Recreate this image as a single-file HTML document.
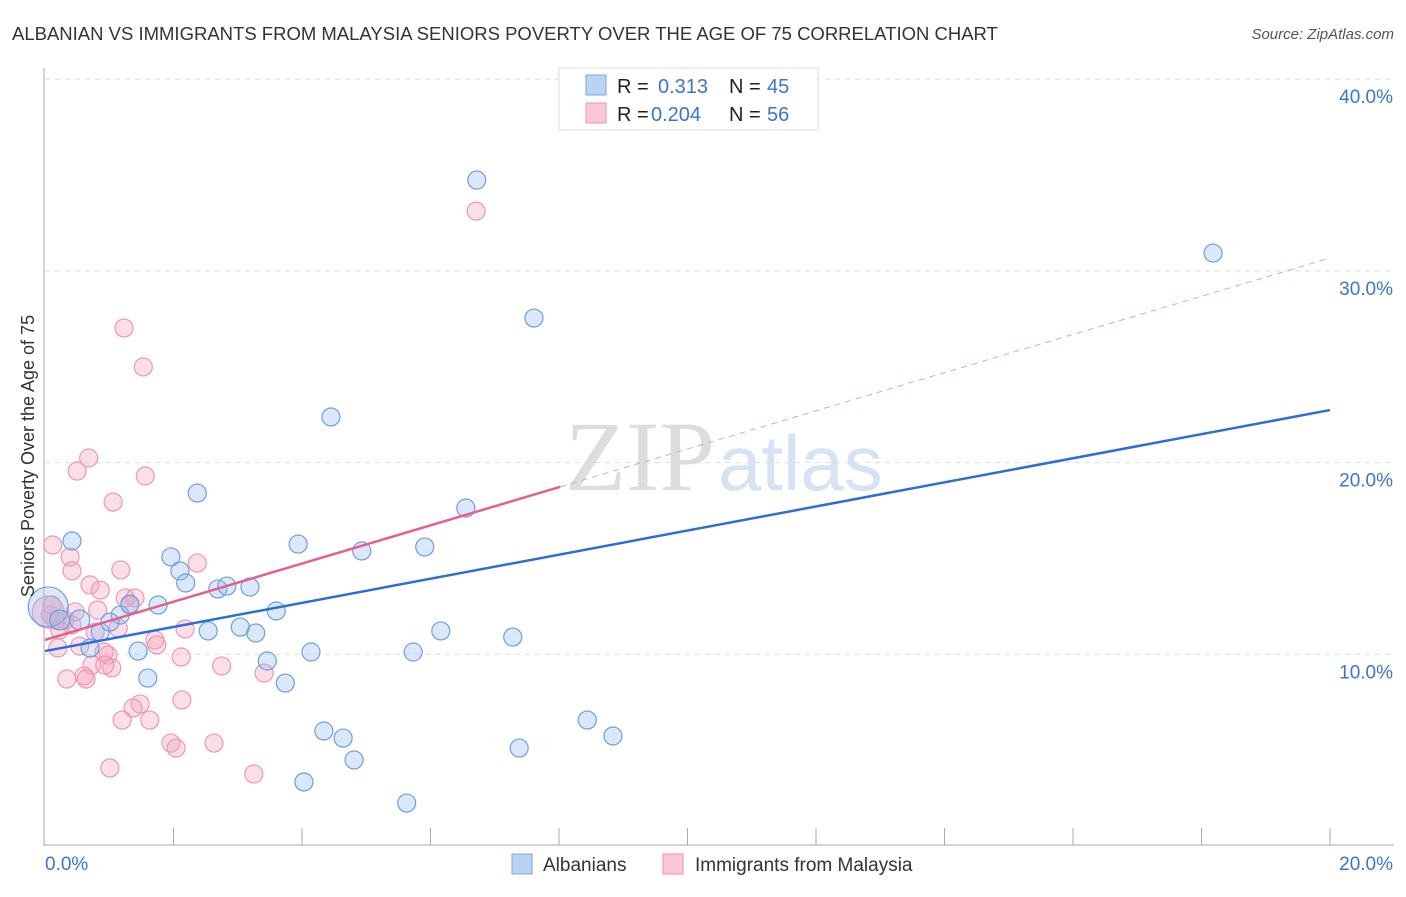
<!DOCTYPE html>
<html><head><meta charset="utf-8"><style>
body{margin:0;background:#fff;font-family:"Liberation Sans",sans-serif}
</style></head><body>
<svg width="1406" height="892" xmlns="http://www.w3.org/2000/svg" font-family="Liberation Sans, sans-serif">
<text x="12" y="40" font-size="18.5" fill="#333">ALBANIAN VS IMMIGRANTS FROM MALAYSIA SENIORS POVERTY OVER THE AGE OF 75 CORRELATION CHART</text>
<text x="1394" y="39" font-size="15" fill="#555" font-style="italic" text-anchor="end">Source: ZipAtlas.com</text>
<text x="715" y="490" font-size="100" fill="#ddd" font-family="Liberation Serif, serif" text-anchor="end">ZIP</text>
<text x="718" y="490" font-size="78" fill="#d5e3f5">atlas</text>
<g id="grid"></g><g id="axes"></g><g id="pts"></g><g id="lines"></g>
<text transform="translate(34,456) rotate(-90)" font-size="18" fill="#333" text-anchor="middle">Seniors Poverty Over the Age of 75</text>
<g>
<rect x="559" y="68" width="259" height="62" fill="#fff" stroke="#ddd"/>
<rect x="586" y="75" width="20" height="20" fill="#b9d3f5" stroke="#7aa7e3"/>
<rect x="586" y="103" width="20" height="20" fill="#f9c7d6" stroke="#eb93b0"/>
<text x="617" y="93" font-size="20" fill="#222">R = </text><text x="658" y="93" font-size="20" fill="#3a75d0">0.313</text>
<text x="729" y="93" font-size="20" fill="#222">N = </text><text x="767" y="93" font-size="20" fill="#3a75d0">45</text>
<text x="617" y="121" font-size="20" fill="#222">R = </text><text x="651" y="121" font-size="20" fill="#3a75d0">0.204</text>
<text x="729" y="121" font-size="20" fill="#222">N = </text><text x="767" y="121" font-size="20" fill="#3a75d0">56</text>
</g>
<g>
<rect x="512" y="854" width="20" height="20" fill="#b9d3f5" stroke="#7aa7e3"/>
<text x="543" y="871" font-size="19" fill="#333">Albanians</text>
<rect x="663" y="854" width="20" height="20" fill="#f9c7d6" stroke="#eb93b0"/>
<text x="695" y="871" font-size="19" fill="#333">Immigrants from Malaysia</text>
</g>
</svg>
<script>
const yTicks=[10,20,30,40];
const yTickLabels=["10.0%","20.0%","30.0%","40.0%"];
const xTickLabels=["0.0%","20.0%"];
const blueX=[0.42,0.86,0.70,1.17,1.01,1.45,1.60,1.76,1.96,2.10,2.19,2.37,2.54,2.69,2.83,3.04,3.19,3.28,3.46,3.60,3.74,3.94,4.14,4.03,4.34,4.45,4.64,4.81,4.93,5.63,5.73,5.91,6.16,6.55,6.72,7.28,7.38,7.61,8.44,8.84,18.18,0.05,0.23,0.54,1.32];
const blueY=[15.91,11.16,10.33,12.05,11.68,10.17,8.76,12.57,15.08,14.35,13.72,18.41,11.22,13.41,13.56,11.42,13.51,11.11,9.65,12.26,8.50,15.75,10.12,3.34,6.00,22.38,5.63,4.49,15.39,2.24,10.12,15.60,11.22,17.63,34.74,10.90,5.11,27.54,6.57,5.74,30.93,12.47,11.79,11.79,12.62];
const pinkX=[0.12,0.39,0.42,0.50,0.68,1.06,1.23,1.53,1.56,1.18,0.70,0.86,0.82,1.25,1.40,1.14,0.92,0.98,1.04,0.73,0.61,0.64,0.34,0.54,0.20,0.23,0.42,0.08,1.71,1.74,2.18,2.12,2.37,2.75,3.41,2.13,1.48,1.37,1.63,1.20,1.96,2.04,2.63,1.01,3.25,6.71,0.16,0.31,0.47,0.93,1.32,0.11,0.78,0.05];
const pinkY=[15.70,15.08,14.35,19.56,20.24,17.94,27.02,24.99,19.30,14.40,13.62,13.35,12.31,12.94,12.94,11.37,10.12,9.96,9.29,9.44,8.87,8.71,8.71,10.43,10.33,11.27,11.53,12.05,10.75,10.49,11.32,9.86,14.76,9.39,9.02,7.62,7.41,7.20,6.57,6.57,5.37,5.11,5.37,4.07,3.76,33.12,11.79,11.79,12.21,9.44,12.57,12.57,11.16,12.2];
const pinkR=Array(53).fill(9).concat([16]);
const blueR=Array(41).fill(9).concat([20,10,10,9]);
const blueFit=[10.17,22.74], pinkFit=[10.75,30.67], pinkSolidEnd=8.02;
const NS="http://www.w3.org/2000/svg";
const X=v=>45+v/20*1285, Y=v=>846-v*19.17;
function mk(tag,attrs,parent){const e=document.createElementNS(NS,tag);for(const k in attrs)e.setAttribute(k,attrs[k]);document.getElementById(parent).appendChild(e);return e;}
yTicks.forEach((t,i)=>{
 const l=mk('line',{x1:45,x2:1394,y1:Y(t),y2:Y(t),stroke:'#ddd','stroke-dasharray':'5,5'},'grid');
 
 
 const tx=mk('text',{x:1393,y:Y(t)+24,'font-size':19,fill:'#3a75d0','text-anchor':'end'},'grid');
 tx.textContent=yTickLabels[i];
 
 
});
const ax=mk('line',{x1:44,x2:44,y1:68,y2:846,stroke:'#aaa'},'axes');


const bx=mk('line',{x1:44,x2:1394,y1:845,y2:845,stroke:'#aaa'},'axes');


for(let v=2;v<=20;v+=2){const t=mk('line',{x1:X(v),x2:X(v),y1:828,y2:845,stroke:'#aaa'},'axes');
 
 }
[[0,'start',45],[20,'end',1393]].forEach((a,i)=>{const t=mk('text',{x:a[2],y:870,'font-size':19,fill:'#3a75d0','text-anchor':a[1]},'axes');t.textContent=xTickLabels[i];
 
 });
pinkX.forEach((x,i)=>{const c=mk('circle',{cx:X(x),cy:Y(pinkY[i]),r:pinkR[i],fill:'rgba(244,160,187,0.35)',stroke:'#ec98b3','stroke-width':1.2},'pts');
 
 });
blueX.forEach((x,i)=>{const c=mk('circle',{cx:X(x),cy:Y(blueY[i]),r:blueR[i],fill:'rgba(150,190,240,0.35)',stroke:'#6d9fe0','stroke-width':1.2},'pts');
 
 });
const pf=x=>pinkFit[0]+(pinkFit[1]-pinkFit[0])*x/20;
let l=mk('line',{x1:X(pinkSolidEnd),y1:Y(pf(pinkSolidEnd)),x2:X(20),y2:Y(pinkFit[1]),stroke:'#e8a0b8','stroke-width':1,'stroke-dasharray':'6,5'},'lines');


l=mk('line',{x1:X(0),y1:Y(pinkFit[0]),x2:X(pinkSolidEnd),y2:Y(pf(pinkSolidEnd)),stroke:'#e5608c','stroke-width':2.5},'lines');


l=mk('line',{x1:X(0),y1:Y(blueFit[0]),x2:X(20),y2:Y(blueFit[1]),stroke:'#2a6fd6','stroke-width':2.5},'lines');


</script>
</body></html>
